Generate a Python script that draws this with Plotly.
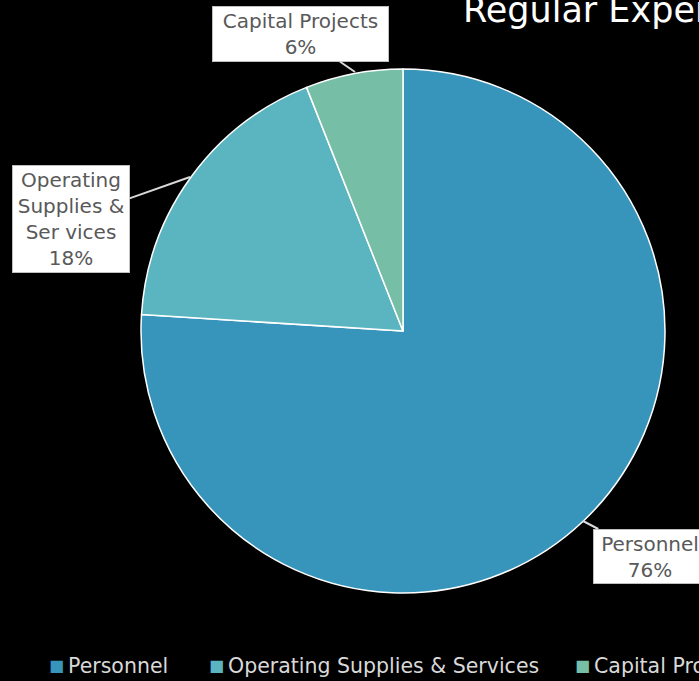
import plotly.graph_objects as go

categories = ["Personnel", "Operating Supplies & Services", "Capital Projects"]
values = [76, 18, 6]
colors = ["#3795BC", "#5AB5C0", "#77BEA6"]
box_labels = ["Personnel<br>76%", "Operating<br>Supplies &<br>Ser vices<br>18%", "Capital Projects<br>6%"]
title_text = "Regular Expenditures"

W, H = 699, 681
def px(x): return x / W
def py(y): return 1 - y / H

fig = go.Figure()
fig.add_trace(go.Pie(
    labels=categories, values=values, sort=False, direction="clockwise", rotation=0,
    marker=dict(colors=colors, line=dict(color="white", width=1.5)),
    textinfo="none", hoverinfo="label+percent", showlegend=False,
    domain=dict(x=[px(141), px(665)], y=[py(593), py(69)]),
))

font_box = dict(family="DejaVu Sans", size=20, color="#595959")
# (head x, head y, box center x, box center y, width, height)
callouts = [
    (583, 521, 650, 556, 112, 53),
    (190, 177, 71, 219, 116, 106),
    (355, 72, 300, 34, 175, 54),
]
for lab, (hx, hy, bx, by, bw, bh) in zip(box_labels, callouts):
    fig.add_annotation(
        x=px(hx), y=py(hy), xref="paper", yref="paper",
        ax=bx - hx, ay=by - hy, text=lab, showarrow=True, arrowhead=0,
        arrowwidth=2, arrowcolor="#d9d9d9", font=font_box,
        bgcolor="white", bordercolor="#bfbfbf", borderwidth=1, borderpad=0,
        width=bw, height=bh, align="center",
    )

fig.add_annotation(x=px(461), y=py(10), xref="paper", yref="paper", xanchor="left",
                   yanchor="middle", text=title_text, showarrow=False,
                   font=dict(family="DejaVu Sans", size=35, color="white"))

legend_x = [68, 228, 594]
for cat, col, lx in zip(categories, colors, legend_x):
    fig.add_annotation(x=px(lx - 2), y=py(665), xref="paper", yref="paper", xanchor="right",
                       yanchor="middle", showarrow=False, text="■",
                       font=dict(family="DejaVu Sans", size=16, color=col))
    fig.add_annotation(x=px(lx - 2), y=py(666), xref="paper", yref="paper", xanchor="left",
                       yanchor="middle", showarrow=False, text=cat,
                       font=dict(family="DejaVu Sans", size=20.5, color="#d9d9d9"))

fig.update_layout(width=W, height=H, margin=dict(l=0, r=0, t=0, b=0),
                  paper_bgcolor="black", plot_bgcolor="black")
fig.write_html("out.html", config={"displayModeBar": False},
               post_script="document.body.style.margin='0';document.body.style.background='black';")
